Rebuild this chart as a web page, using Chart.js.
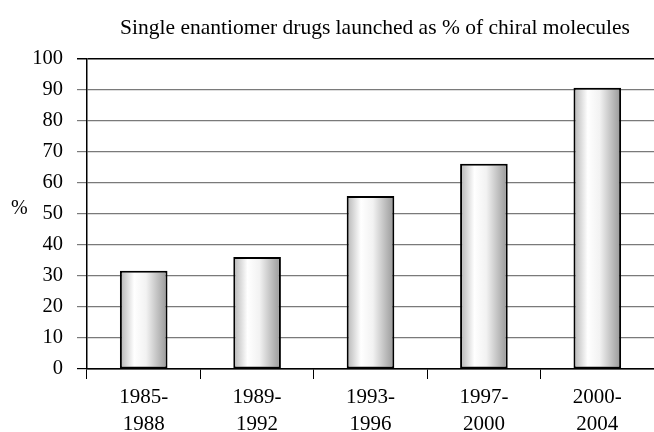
<!DOCTYPE html>
<html>
<head>
<meta charset="utf-8">
<script src="https://cdn.jsdelivr.net/npm/chart.js@4/dist/chart.umd.min.js"></script>
<style>
html,body{margin:0;padding:0;background:#fff;}
#wrap{width:654px;height:432px;}
</style>
</head>
<body>
<div id="wrap"><canvas id="c" width="654" height="432"></canvas></div>
<script>
const categories = [["1985-","1988"],["1989-","1992"],["1993-","1996"],["1997-","2000"],["2000-","2004"]];
const percentValues = [31.7, 36.1, 55.8, 66.2, 90.7];
const yTicks = [0,10,20,30,40,50,60,70,80,90,100];
const chartTitle = "Single enantiomer drugs launched as % of chiral molecules";
const yLabel = "%";

const FONT = "'Liberation Serif', 'Times New Roman', serif";

const gradientPlugin = {
  id: 'barGradient',
  beforeDatasetsDraw(chart) {
    const ctx = chart.ctx;
    chart.getDatasetMeta(0).data.forEach(el => {
      const w = el.width;
      const x0 = el.x - w/2, x1 = el.x + w/2;
      const g = ctx.createLinearGradient(x0, 0, x1, 0);
      g.addColorStop(0, '#b4b4b4');
      g.addColorStop(0.3, '#ffffff');
      g.addColorStop(0.55, '#f2f2f2');
      g.addColorStop(1, '#979797');
      el.options = Object.assign({}, el.options, { backgroundColor: g });
    });
  }
};

const textPlugin = {
  id: 'texts',
  afterDraw(chart) {
    const ctx = chart.ctx;
    ctx.save();
    ctx.fillStyle = '#000';
    ctx.font = "21.5px " + FONT;
    ctx.textAlign = 'center';
    ctx.textBaseline = 'middle';
    ctx.fillText(chartTitle, 375, 28);
    ctx.font = "20px " + FONT;
    ctx.textAlign = 'left';
    ctx.fillText(yLabel, 11, 209);
    ctx.restore();
  }
};

new Chart(document.getElementById('c'), {
  type: 'bar',
  data: {
    labels: categories,
    datasets: [{
      data: percentValues,
      backgroundColor: '#eeeeee',
      borderColor: '#000',
      borderWidth: 2,
      borderSkipped: false,
      categoryPercentage: 1,
      barPercentage: 0.42
    }]
  },
  options: {
    responsive: false,
    animation: false,
    events: [],
    layout: { padding: { top: 59, right: 0, left: 0, bottom: 0 } },
    plugins: { legend: { display: false }, title: { display: false }, tooltip: { enabled: false } },
    scales: {
      x: {
        afterFit(s) { s.height = 63; },
        grid: { display: true, offset: true, drawOnChartArea: false, drawTicks: true, tickLength: 10, color: '#000', lineWidth: 1 },
        border: { display: true, color: '#000', width: 1.5 },
        ticks: { color: '#000', font: { family: FONT, size: 21, lineHeight: 1.3 }, padding: 5, maxRotation: 0, autoSkip: false }
      },
      y: {
        min: 0, max: 100,
        afterFit(s) { s.width = 87; },
        afterBuildTicks(s) { s.ticks = yTicks.map(v => ({ value: v })); },
        grid: {
          color: c => (c.tick && (c.tick.value === 100 || c.tick.value === 0)) ? '#000' : '#7a7a7a',
          lineWidth: c => (c.tick && c.tick.value === 100) ? 1.5 : 1.2,
          tickLength: 10
        },
        border: { display: true, color: '#000', width: 1.5 },
        ticks: { color: '#000', font: { family: FONT, size: 20.5 }, padding: 14 }
      }
    }
  },
  plugins: [gradientPlugin, textPlugin]
});
</script>
</body>
</html>
